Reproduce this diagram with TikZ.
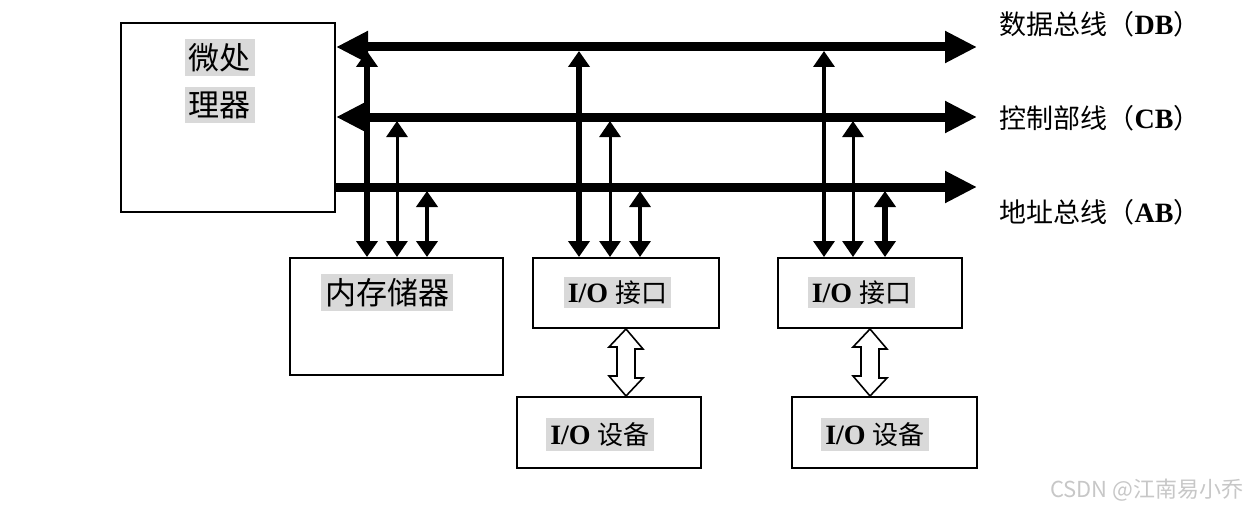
\documentclass[tikz,border=0pt]{standalone}
\usepackage{fontspec}
\setmainfont{Liberation Serif}
\newfontfamily\cjk{Noto Sans CJK SC}
\usetikzlibrary{arrows.meta}

\begin{document}
\begin{tikzpicture}[x=1pt, y=-1pt,
  box/.style={draw, line width=2pt, inner sep=0pt},
  tag/.style={fill=black!15, inner sep=4pt},
  big/.style={font=\cjk\fontsize{31}{37}\selectfont},
  small/.style={font=\bfseries\fontsize{28}{33}\selectfont},
  buslab/.style={anchor=west, font=\fontsize{28}{33}\selectfont},
  bus/.style={line width=9pt, -{Triangle[length=32pt, width=30pt]}},
  dbus/.style={line width=9pt, {Triangle[length=32pt, width=30pt]}-{Triangle[length=32pt, width=30pt]}},
  tap/.style={{Triangle[length=16pt, width=21pt]}-{Triangle[length=16pt, width=21pt]}, shorten <=4pt},
  hollow/.style={line width=1.6pt, fill=white, line join=miter}]
  \useasboundingbox (0,0) rectangle (1251,511);
  % cpu
  \node[box, minimum width=214, minimum height=189] (cpu) at (228,117.5) {};
  \node[tag, big] (cpua) at (219.5,57.5) {微处};
  \node[tag, big] (cpub) at (219.5,105) {理器};
  % memoria e interfaces
  \node[box, minimum width=213, minimum height=117] (mem) at (396.5,316.5) {};
  \node[tag, big] (memlab) at (387,292.5) {内存储器};
  \node[box, minimum width=186, minimum height=70] (if1) at (626,293) {};
  \node[tag, small] (if1lab) at (617.5,292.5) {I/O {\cjk\mdseries\fontsize{26}{31}\selectfont 接口}};
  \node[box, minimum width=184, minimum height=70] (if2) at (870,293) {};
  \node[tag, small] (if2lab) at (861.5,292.5) {I/O {\cjk\mdseries\fontsize{26}{31}\selectfont 接口}};
  % dispositivos
  \node[box, minimum width=184, minimum height=71] (dev1) at (609,432.5) {};
  \node[tag, small] (dev1lab) at (600,434.5) {I/O {\cjk\mdseries\fontsize{26}{31}\selectfont 设备}};
  \node[box, minimum width=185, minimum height=71] (dev2) at (884.5,432.5) {};
  \node[tag, small] (dev2lab) at (875,434.5) {I/O {\cjk\mdseries\fontsize{26}{31}\selectfont 设备}};
  % buses
  \coordinate (db) at (0,47);
  \coordinate (cb) at (0,117);
  \coordinate (ab) at (0,187);
  \coordinate (dbend) at (977,47);
  \coordinate (cbend) at (977,117);
  \coordinate (abend) at (977,187);
  \draw[dbus] (cpu.east |- db) -- (dbend);
  \draw[dbus] (cpu.east |- cb) -- (cbend);
  \draw[bus] (cpu.east |- ab) -- (abend);
  \node[buslab] (dblab) at (996,24) {{\cjk\fontsize{27}{32}\selectfont 数据总线（}\textbf{DB}{\cjk\fontsize{27}{32}\selectfont ）}};
  \node[buslab] (cblab) at (996,118) {{\cjk\fontsize{27}{32}\selectfont 控制部线（}\textbf{CB}{\cjk\fontsize{27}{32}\selectfont ）}};
  \node[buslab] (ablab) at (996,212) {{\cjk\fontsize{27}{32}\selectfont 地址总线（}\textbf{AB}{\cjk\fontsize{27}{32}\selectfont ）}};
  % lineas de conexion
  \foreach \x/\b/\n/\w in {367/db/mem/6, 397/cb/mem/3, 427/ab/mem/4.5,
      579/db/if1/6, 610/cb/if1/3, 640/ab/if1/3.5,
      824/db/if2/3.5, 853/cb/if2/3, 885/ab/if2/6}
    \draw[tap, line width=\w pt] (\x,0 |- \b) -- (\x,0 |- \n.north);
  % flechas huecas
  \draw[hollow] (if1.south) -- ++(17,20) -- ++(-8,0) -- ++(0,29) -- ++(8,0)
    -- (if1.south |- dev1.north) -- ++(-17,-20) -- ++(8,0) -- ++(0,-29) -- ++(-8,0) -- cycle;
  \draw[hollow] (if2.south) -- ++(17,20) -- ++(-8,0) -- ++(0,29) -- ++(8,0)
    -- (if2.south |- dev2.north) -- ++(-17,-20) -- ++(8,0) -- ++(0,-29) -- ++(-8,0) -- cycle;
  % marca
  \node[anchor=east, text=black!22, font=\cjk\fontsize{22}{26}\selectfont] (wm) at (1247,490) {CSDN @江南易小乔};
\end{tikzpicture}
\end{document}
